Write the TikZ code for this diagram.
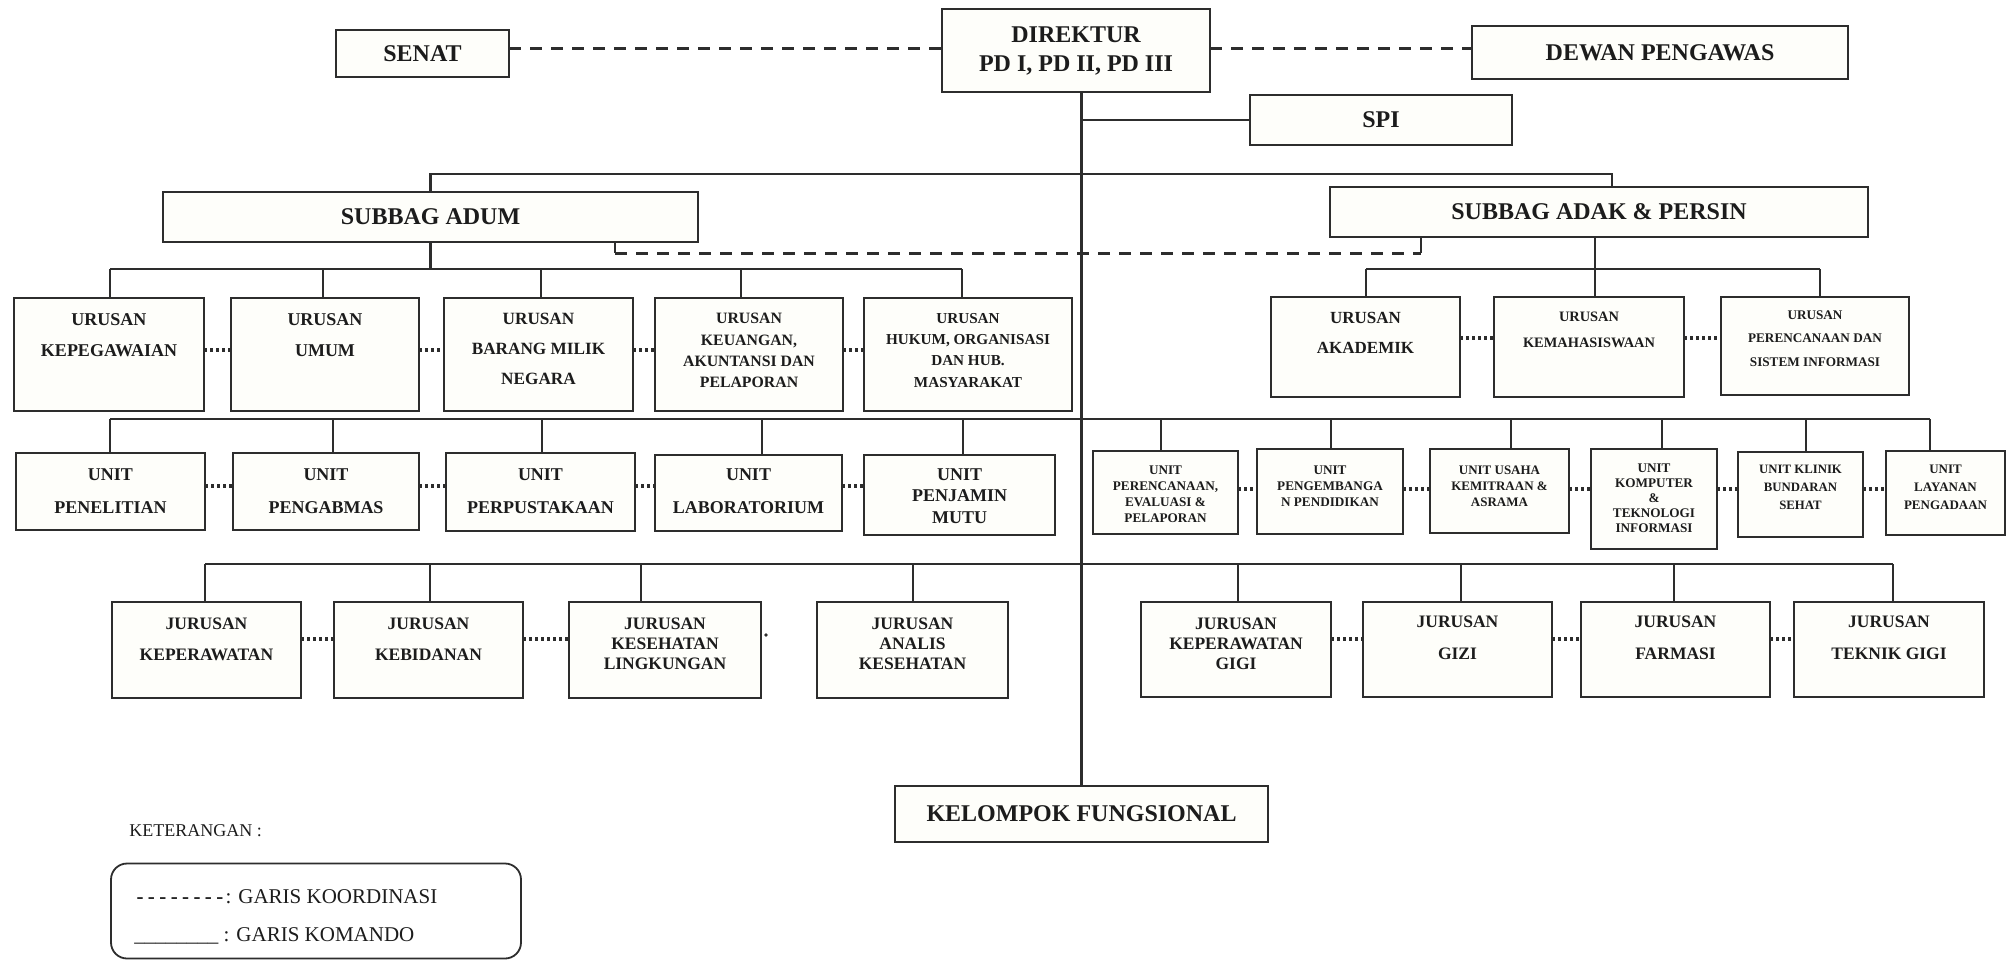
\documentclass[tikz,border=0pt]{standalone}
\usepackage{fontspec}
\setmainfont{Liberation Serif}
\definecolor{linec}{RGB}{45,45,45}
\definecolor{textc}{RGB}{28,28,28}
\definecolor{boxfill}{RGB}{254,254,250}
\newcommand\bff[2]{\fontsize{#1}{#2}\selectfont\bfseries}
\newcommand\ldash{\kern1.1pt\textbf{-}\kern1.1pt}
% centred text box
\newcommand\cbx[7]{\node[box, font=#6, align=center, text=textc,
  minimum width={(#4-#2)*0.5pt}, minimum height={(#5-#3)*0.5pt}]
  (#1) at ({(#2+#4)/2},{(#3+#5)/2}) {#7};}
% box with text hanging from its top
\newcommand\tbx[8]{\node[box, minimum width={(#4-#2)*0.5pt}, minimum height={(#5-#3)*0.5pt}]
  (#1) at ({(#2+#4)/2},{(#3+#5)/2}) {};
  \node[txt, font=#6, anchor=north] (#1t) at ([yshift=-#7]#1.north) {#8};}
\begin{document}
\begin{tikzpicture}[x=0.5pt,y=-0.5pt,
  box/.style={draw=linec, line width=1pt, fill=boxfill, inner sep=0pt, outer sep=0pt},
  txt/.style={inner sep=0pt, align=center, text=textc},
  cmd/.style={draw=linec, line width=1.2pt},
  trunk/.style={draw=linec, line width=1.6pt},
  coord/.style={draw=linec, line width=1.5pt, dash pattern=on 6pt off 4.5pt},
  dots/.style={draw=linec, line width=1.6pt, dash pattern=on 1.4pt off 1.6pt}]
\fill[white] (0,0) rectangle (2011,960);
\useasboundingbox (0,0) rectangle (2011,960);

% ---------- top level ----------
\cbx{senat}{336}{30}{509}{77}{\bff{12}{14}}{SENAT}
\cbx{dir}{942}{9}{1210}{92}{\bff{12}{14.5}}{DIREKTUR\\PD I, PD II, PD III}
\cbx{dewan}{1472}{26}{1848}{79}{\bff{12}{14}}{DEWAN PENGAWAS}
\cbx{spi}{1250}{95}{1512}{145}{\bff{12}{14}}{SPI}
\cbx{adum}{163}{192}{698}{242}{\bff{12}{14}}{SUBBAG ADUM}
\cbx{adak}{1330}{187}{1868}{237}{\bff{12}{14}}{SUBBAG ADAK \& PERSIN}
\cbx{kf}{895}{786}{1268}{842}{\bff{12}{14}}{KELOMPOK FUNGSIONAL}

% ---------- urusan (left) ----------
\tbx{u1}{14}{298}{204}{411}{\bff{9}{15.5}}{7.5pt}{URUSAN\\KEPEGAWAIAN}
\tbx{u2}{231}{298}{419}{411}{\bff{9}{15.5}}{7.5pt}{URUSAN\\UMUM}
\tbx{u3}{444}{298}{633}{411}{\bff{8.6}{15}}{7.5pt}{URUSAN\\BARANG MILIK\\NEGARA}
\tbx{u4}{655}{298}{843}{411}{\bff{7.9}{10.6}}{7.5pt}{URUSAN\\KEUANGAN,\\AKUNTANSI DAN\\PELAPORAN}
\tbx{u5}{864}{298}{1072}{411}{\bff{7.6}{10.6}}{7.5pt}{URUSAN\\HUKUM, ORGANISASI\\DAN HUB.\\MASYARAKAT}

% ---------- urusan (right) ----------
\tbx{r1}{1271}{297}{1460}{397}{\bff{8.5}{15}}{7.5pt}{URUSAN\\AKADEMIK}
\tbx{r2}{1494}{297}{1684}{397}{\bff{7.2}{13}}{7.5pt}{URUSAN\\KEMAHASISWAAN}
\tbx{r3}{1721}{297}{1909}{395}{\bff{6.6}{11.8}}{6.5pt}{URUSAN\\PERENCANAAN DAN\\SISTEM INFORMASI}

% ---------- units (left) ----------
\tbx{n1}{16}{453}{205}{530}{\bff{9}{16.5}}{7.5pt}{UNIT\\PENELITIAN}
\tbx{n2}{233}{453}{419}{530}{\bff{9}{16.5}}{7.5pt}{UNIT\\PENGABMAS}
\tbx{n3}{446}{453}{635}{531}{\bff{9}{16.5}}{7.5pt}{UNIT\\PERPUSTAKAAN}
\tbx{n4}{655}{455}{842}{531}{\bff{9}{16.5}}{6.5pt}{UNIT\\LABORATORIUM}
\tbx{n5}{864}{455}{1055}{535}{\bff{9}{10.8}}{6.5pt}{UNIT\\PENJAMIN\\MUTU}

% ---------- units (right) ----------
\tbx{m1}{1093}{451}{1238}{534}{\bff{6.6}{8}}{7pt}{UNIT\\PERENCANAAN,\\EVALUASI \&\\PELAPORAN}
\tbx{m2}{1257}{449}{1403}{534}{\bff{6.6}{8.2}}{8pt}{UNIT\\PENGEMBANGA\\N PENDIDIKAN}
\tbx{m3}{1430}{449}{1569}{533}{\bff{6.5}{8.2}}{8pt}{UNIT USAHA\\KEMITRAAN \&\\ASRAMA}
\tbx{m4}{1591}{449}{1717}{549}{\bff{6.6}{7.6}}{7pt}{UNIT\\KOMPUTER\\\&\\TEKNOLOGI\\INFORMASI}
\tbx{m5}{1738}{452}{1863}{537}{\bff{6.4}{9}}{6.5pt}{UNIT KLINIK\\BUNDARAN\\SEHAT}
\tbx{m6}{1886}{451}{2005}{535}{\bff{6.5}{9}}{7pt}{UNIT\\LAYANAN\\PENGADAAN}

% ---------- jurusan ----------
\tbx{j1}{112}{602}{301}{698}{\bff{8.75}{15.5}}{7.5pt}{JURUSAN\\KEPERAWATAN}
\tbx{j2}{334}{602}{523}{698}{\bff{8.75}{15.5}}{7.5pt}{JURUSAN\\KEBIDANAN}
\tbx{j3}{569}{602}{761}{698}{\bff{8.75}{10.2}}{7.5pt}{JURUSAN\\KESEHATAN\\LINGKUNGAN}
\tbx{j4}{817}{602}{1008}{698}{\bff{8.75}{10.2}}{7.5pt}{JURUSAN\\ANALIS\\KESEHATAN}
\tbx{j5}{1141}{602}{1331}{697}{\bff{8.75}{10.2}}{7.5pt}{JURUSAN\\KEPERAWATAN\\GIGI}
\tbx{j6}{1363}{602}{1552}{697}{\bff{8.75}{16}}{6.5pt}{JURUSAN\\GIZI}
\tbx{j7}{1581}{602}{1770}{697}{\bff{8.75}{16}}{6.5pt}{JURUSAN\\FARMASI}
\tbx{j8}{1794}{602}{1984}{697}{\bff{8.75}{16}}{6.5pt}{JURUSAN\\TEKNIK GIGI}

% ---------- command lines ----------
\draw[trunk] (kf.north |- dir.south) -- (kf.north);
\draw[cmd] (kf.north |- spi.west) -- (spi.west);
\coordinate (l2b) at (1612,174);
\draw[cmd] (adum.north) |- (l2b) -- (l2b |- adak.north);

% urusan left bar
\coordinate (ubl) at (110,269); \coordinate (ubr) at (962,269);
\draw[cmd] (ubl) -- (ubr);
\draw[cmd] (adum.south) -- (adum.south |- ubl);
\foreach \n/\x in {u1/110,u2/323,u3/541,u4/741,u5/962}{
  \coordinate (tk) at (\x,269); \draw[cmd] (tk) -- (tk |- \n.north);}

% urusan right bar
\coordinate (rbl) at (1366,269); \coordinate (rbr) at (1820,269);
\draw[cmd] (rbl) -- (rbr);
\coordinate (rd) at (1595,269);
\draw[cmd] (rd |- adak.south) -- (rd);
\foreach \n/\x in {r1/1366,r2/1595,r3/1820}{
  \coordinate (tk) at (\x,269); \draw[cmd] (tk) -- (tk |- \n.north);}

% unit bar
\coordinate (nbl) at (110,419); \coordinate (nbr) at (1930,419);
\draw[cmd] (nbl) -- (nbr);
\foreach \n/\x in {n1/110,n2/333,n3/542,n4/762,n5/963,m1/1161,m2/1331,m3/1511,m4/1662,m5/1806,m6/1930}{
  \coordinate (tk) at (\x,419); \draw[cmd] (tk) -- (tk |- \n.north);}

% jurusan bar
\coordinate (jbl) at (205,564); \coordinate (jbr) at (1893,564);
\draw[cmd] (jbl) -- (jbr);
\foreach \n/\x in {j1/205,j2/430,j3/641,j4/913,j5/1238,j6/1461,j7/1674,j8/1893}{
  \coordinate (tk) at (\x,564); \draw[cmd] (tk) -- (tk |- \n.north);}

% ---------- coordination lines ----------
\coordinate (cy) at (0,48);
\draw[coord] (senat.east |- cy) -- (dir.west |- cy);
\draw[coord] (dir.east |- cy) -- (dewan.west |- cy);
\coordinate (da) at (615,253); \coordinate (db) at (1421,253);
\draw[cmd] (da |- adum.south) -- (da);
\draw[coord] (da) -- (db);
\draw[cmd] (db) -- (db |- adak.south);

% ---------- dotted links ----------
\coordinate (yu) at (0,350); \coordinate (yn) at (0,486);
\coordinate (yr) at (0,338); \coordinate (ym) at (0,489);
\coordinate (yj) at (0,639);
\foreach \a/\b in {u1/u2,u2/u3,u3/u4,u4/u5}{\draw[dots] (\a.east |- yu) -- (\b.west |- yu);}
\foreach \a/\b in {n1/n2,n2/n3,n3/n4,n4/n5}{\draw[dots] (\a.east |- yn) -- (\b.west |- yn);}
\foreach \a/\b in {r1/r2,r2/r3}{\draw[dots] (\a.east |- yr) -- (\b.west |- yr);}
\foreach \a/\b in {m1/m2,m2/m3,m3/m4,m4/m5,m5/m6}{\draw[dots] (\a.east |- ym) -- (\b.west |- ym);}
\foreach \a/\b in {j1/j2,j2/j3,j5/j6,j6/j7,j7/j8}{\draw[dots] (\a.east |- yj) -- (\b.west |- yj);}
\coordinate (jm) at (766,635);
\fill[linec] (jm) circle[radius=0.9pt];

% ---------- legend ----------
\node[txt, font=\fontsize{9}{11}\selectfont, anchor=west] (ket) at (129,831) {KETERANGAN :};
\node[draw=linec, line width=0.9pt, rounded corners=8pt, inner sep=0pt,
  minimum width=205pt, minimum height=47.5pt] (leg) at (316,911) {};
\node[txt, font=\fontsize{10.5}{12}\selectfont, anchor=base west] (lk) at (134,903)
  {\ldash\ldash\ldash\ldash\ldash\ldash\ldash\ldash: GARIS KOORDINASI};
\node[txt, font=\fontsize{10.5}{12}\selectfont, anchor=base west] (lc) at (134,941)
  {\_\_\_\_\_\_\_\_ : GARIS KOMANDO};
\end{tikzpicture}
\end{document}
